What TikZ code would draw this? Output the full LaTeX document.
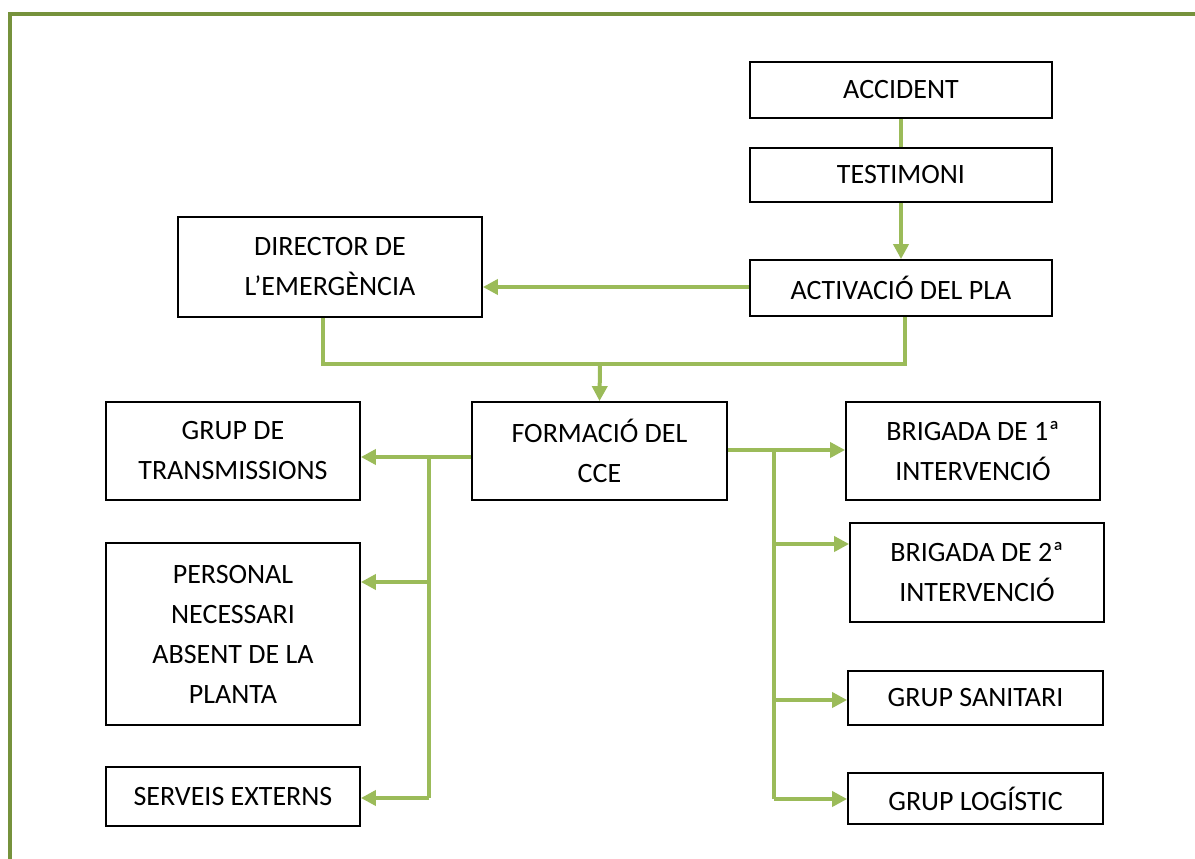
\documentclass[tikz,border=0pt]{standalone}
\usepackage{fontspec}
\setmainfont{Carlito}
\usetikzlibrary{arrows.meta}
\definecolor{frameg}{HTML}{76923C}
\definecolor{lineg}{HTML}{9BBB59}
\begin{document}
\begin{tikzpicture}[x=1pt,y=-1pt,
  box/.style={draw=black,line width=1.8pt,align=center,inner sep=0pt,
    font=\fontsize{28}{40}\selectfont},
  conn/.style={draw=lineg,line width=4pt},
  arr/.style={conn,-{Triangle[length=15pt,width=15pt]}}]
\useasboundingbox (0,0) rectangle (1195,859);
% page frame
\draw[frameg,line width=4pt] (10,859) -- (10,14) -- (1195,14);
% nodes
\node[box,minimum width=302pt,minimum height=56pt] (acc) at (901,90) {ACCIDENT};
\node[box,minimum width=302pt,minimum height=54pt] (tes) at (901,175) {TESTIMONI};
\node[box,minimum width=302pt,minimum height=56pt] (act) at (901,288) {ACTIVACIÓ DEL PLA};
\node[box,minimum width=304pt,minimum height=100pt] (dir) at (330,267) {DIRECTOR DE\\L’EMERGÈNCIA};
\node[box,minimum width=255pt,minimum height=98pt] (for) at (599.5,451) {FORMACIÓ DEL\\CCE};
\node[box,minimum width=254pt,minimum height=98pt] (tra) at (233,451) {GRUP DE\\TRANSMISSIONS};
\node[box,minimum width=254pt,minimum height=182pt] (per) at (233,634) {PERSONAL\\NECESSARI\\ABSENT DE LA\\PLANTA};
\node[box,minimum width=254pt,minimum height=59pt] (ser) at (233,796.5) {SERVEIS EXTERNS};
\node[box,minimum width=254pt,minimum height=98pt] (br1) at (973,451) {BRIGADA DE 1ª\\INTERVENCIÓ};
\node[box,minimum width=254pt,minimum height=99pt] (br2) at (977,572.5) {BRIGADA DE 2ª\\INTERVENCIÓ};
\node[box,minimum width=255pt,minimum height=54pt] (san) at (975.5,698) {GRUP SANITARI};
\node[box,minimum width=255pt,minimum height=51pt] (log) at (975.5,798.5) {GRUP LOGÍSTIC};
% junction coordinates
\coordinate (mj) at (600,364);
\coordinate (lj) at (429,457);
\coordinate (lb) at (429,798);
\coordinate (rj) at (774,450);
\coordinate (rb) at (774,799);
% connectors
\draw[conn] (acc.south) -- (tes.north);
\draw[arr] (tes.south) -- (act.north);
\draw[arr] ([yshift=1pt]act.west) -- ([yshift=1pt]act.west -| dir.east);
\draw[conn] ([xshift=-7pt]dir.south) -- ([xshift=-7pt]dir.south |- mj) -- ([xshift=4pt]act.south |- mj) -- ([xshift=4pt]act.south);
\draw[arr] (mj) -- (for.north);
\draw[arr] (for.west |- lj) -- (tra.east |- lj);
\draw[conn] (lj) -- (lb);
\draw[arr] (lj |- 0,582) -- (per.east |- 0,582);
\draw[arr] (lb) -- (ser.east |- lb);
\draw[arr] (for.east |- rj) -- (br1.west |- rj);
\draw[conn] (rj) -- (rb);
\draw[arr] (rj |- 0,544) -- (br2.west |- 0,544);
\draw[arr] (rj |- 0,700) -- (san.west |- 0,700);
\draw[arr] (rb) -- (log.west |- rb);
\end{tikzpicture}
\end{document}
